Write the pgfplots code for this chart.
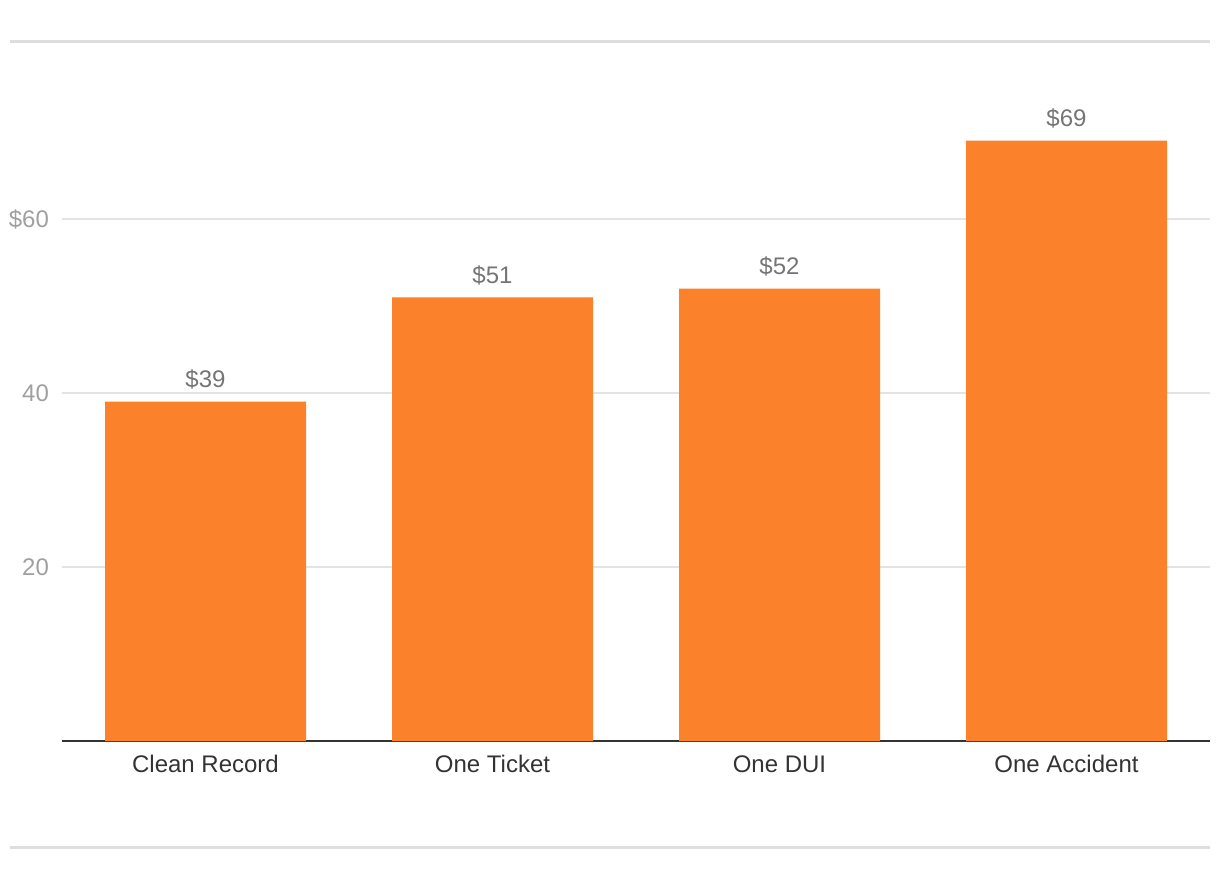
\documentclass[border=0pt]{standalone}
\usepackage{pgfplots}
\pgfplotsset{compat=1.18}
\usepackage{fontspec}
\setmainfont{Liberation Sans}
\definecolor{barorange}{HTML}{FB812A}
\definecolor{gridgray}{HTML}{E3E3E3}
\definecolor{decogray}{HTML}{DEDEDE}
\definecolor{ticklab}{HTML}{A0A0A0}
\definecolor{vallab}{HTML}{757575}
\definecolor{catlab}{HTML}{333333}
\begin{document}
\begin{tikzpicture}
\path[use as bounding box] (-31pt,-69.5pt) rectangle (579pt,370.5pt);
\begin{axis}[
  at={(0pt,0pt)}, anchor=south west,
  scale only axis,
  width=574pt, height=349.5pt,
  xmin=-0.5, xmax=3.5,
  ymin=0, ymax=80.345,
  clip=false,
  axis x line*=bottom,
  axis y line*=left,
  x axis line style={draw=catlab, line width=1pt, -},
  y axis line style={draw=none},
  xtick={0,1,2,3},
  xticklabels={Clean Record, One Ticket, One DUI, One Accident},
  ytick={20,40,60},
  yticklabels={20,40,\$60},
  major tick length=0pt,
  ymajorgrids,
  grid style={draw=gridgray, line width=0.9pt},
  /pgf/number format/assume math mode=true,
  xticklabel style={font=\fontsize{12}{14}\selectfont, text=catlab, text height=9pt, text depth=2.5pt, yshift=-3pt},
  yticklabel style={font=\fontsize{12}{14}\selectfont, text=ticklab, anchor=east, xshift=-3pt},
  ybar, bar width=100.5pt,
  nodes near coords={\$\pgfmathprintnumber{\pgfplotspointmeta}},
  every node near coord/.append style={font=\fontsize{12}{14}\selectfont, text=vallab, yshift=2.5pt},
]
\addplot[fill=barorange, draw=none] coordinates {(0,39) (1,51) (2,52) (3,69)};
\end{axis}
\draw[decogray, line width=1.75pt] (-26pt,349.75pt) -- (574pt,349.75pt);
\draw[decogray, line width=1.75pt] (-26pt,-53.25pt) -- (574pt,-53.25pt);
\end{tikzpicture}
\end{document}
